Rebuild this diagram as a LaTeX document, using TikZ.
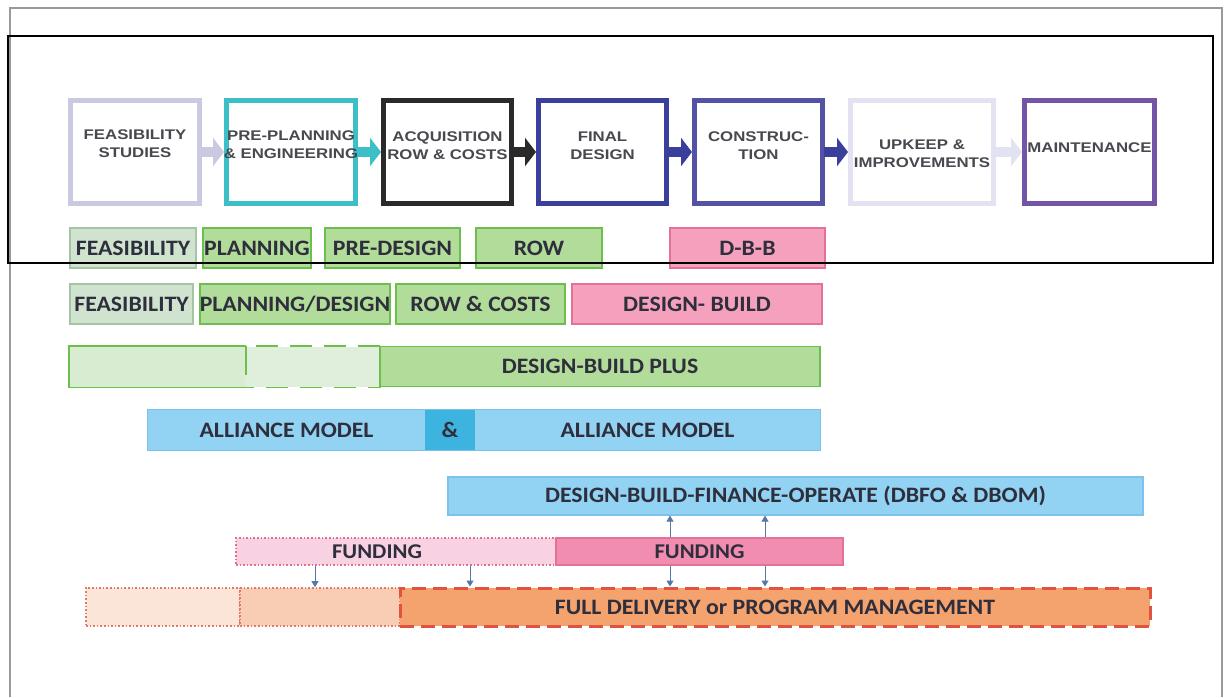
\documentclass[tikz,border=0pt]{standalone}
\usepackage{fontspec}
\usetikzlibrary{arrows.meta,calc}
\newfontfamily\topfont[FakeStretch=1.2]{Liberation Sans}
\newfontfamily\lowfont[FakeStretch=1.08]{Carlito}
\definecolor{txt}{HTML}{2E2E3C}
\definecolor{toptxt}{HTML}{48484F}
\definecolor{cFeas}{HTML}{C9C9E2}
\definecolor{cTeal}{HTML}{3CBFC6}
\definecolor{cBlack}{HTML}{2A2A2A}
\definecolor{cNavy}{HTML}{3B3F9C}
\definecolor{cBlue}{HTML}{5352A4}
\definecolor{cPale}{HTML}{E2E2F2}
\definecolor{cPurp}{HTML}{7454A6}
\definecolor{gFill}{HTML}{CFE3CF}
\definecolor{gDraw}{HTML}{A5C3A5}
\definecolor{grFill}{HTML}{B2DC9A}
\definecolor{grDraw}{HTML}{6CBF4C}
\definecolor{lgFill}{HTML}{D8ECD2}
\definecolor{mgFill}{HTML}{E0EFDC}
\definecolor{pkFill}{HTML}{F5A1BD}
\definecolor{pkDraw}{HTML}{E57296}
\definecolor{blFill}{HTML}{92D2F2}
\definecolor{blDraw}{HTML}{7DC2EA}
\definecolor{blDark}{HTML}{3DB3E0}
\definecolor{fpFill}{HTML}{F8D2E2}
\definecolor{fpDraw}{HTML}{E0708E}
\definecolor{fsFill}{HTML}{F08DB1}
\definecolor{o1Fill}{HTML}{FBE4D8}
\definecolor{o2Fill}{HTML}{F8CDB3}
\definecolor{o3Fill}{HTML}{F4A26E}
\definecolor{oDraw}{HTML}{E0543F}
\definecolor{conn}{HTML}{5677A6}
\tikzset{
  stagebox/.style={draw=#1, line width=5pt, minimum height=103pt, inner sep=0pt},
  stagetext/.style={font=\topfont\bfseries\fontsize{14}{18}\selectfont, text=toptxt, align=center, inner sep=0pt},
  flow/.style={draw=#1, line width=10pt, -{Triangle[width=28pt,length=11pt]}, shorten <=-1pt},
  bar/.style={minimum height=40pt, inner sep=0pt, line width=1.6pt, font=\lowfont\bfseries\fontsize{22}{24}\selectfont, text=txt},
  gbar/.style={bar, fill=gFill, draw=gDraw},
  grbar/.style={bar, fill=grFill, draw=grDraw},
  pkbar/.style={bar, fill=pkFill, draw=pkDraw},
  blbar/.style={bar, fill=blFill},
  link/.style={draw=conn, line width=1pt, -{Triangle[width=7pt,length=6pt]}},
}
\begin{document}
\begin{tikzpicture}[x=1pt,y=-1pt]
\useasboundingbox (0,0) rectangle (1231,697);
\fill[white] (0,0) rectangle (1231,697);
% outer gray frame
\draw[gray!80, line width=1.3pt] (10,697) -- (10,8) -- (1222,8) -- (1222,697);

% ---- stage boxes ----
\node[stagebox=cFeas, minimum width=129pt] (s1) at (135,152) {};
\node[stagebox=cTeal, minimum width=129pt] (s2) at (291,152) {};
\node[stagebox=cBlack, minimum width=128pt] (s3) at (447.5,152) {};
\node[stagebox=cNavy, minimum width=128pt] (s4) at (602.5,152) {};
\node[stagebox=cBlue, minimum width=128pt] (s5) at (758.5,152) {};
\node[stagebox=cPale, minimum width=143pt] (s6) at (922,152) {};
\node[stagebox=cPurp, minimum width=130pt] (s7) at (1089.5,152) {};
\node[stagetext] (t1) at (s1.center) [yshift=8pt] {FEASIBILITY\\STUDIES};
\node[stagetext] (t2) at (s2.center) [yshift=7pt] {PRE-PLANNING\\\&~ENGINEERING};
\node[stagetext] (t3) at (s3.center) [yshift=6.5pt] {ACQUISITION\\ROW \& COSTS};
\node[stagetext] (t4) at (s4.center) [yshift=6.5pt] {FINAL\\DESIGN};
\node[stagetext] (t5) at (s5.center) [yshift=6pt] {CONSTRUC-\\TION};
\node[stagetext] (t6) at (s6.center) [yshift=-1.5pt] {UPKEEP \&\\IMPROVEMENTS};
\node[stagetext] (t7) at (s7.center) [yshift=4pt] {MAINTENANCE};
\draw[flow=cFeas] (s1.east) -- (s2.west);
\draw[flow=cTeal] (s2.east) -- (s3.west);
\draw[flow=cBlack] (s3.east) -- (s4.west);
\draw[flow=cNavy] (s4.east) -- (s5.west);
\draw[flow=cNavy] (s5.east) -- (s6.west);
\draw[flow=cPale] (s6.east) -- (s7.west);

% ---- row 2 ----
\node[gbar, minimum width=126pt] (r2a) at (133,248) {FEASIBILITY};
\node[grbar, minimum width=108pt] (r2b) at (257,248) {PLANNING};
\node[grbar, minimum width=135pt] (r2c) at (392.5,248) {PRE-DESIGN};
\node[grbar, minimum width=126pt] (r2d) at (539,248) {ROW};
\node[pkbar, minimum width=155pt] (r2e) at (747.5,248) {D-B-B};

% ---- row 3 ----
\node[gbar, minimum width=123pt] (r3a) at (131.5,304) {FEASIBILITY};
\node[grbar, minimum width=188pt] (r3b) at (295,304) {PLANNING/DESIGN};
\node[grbar, minimum width=169pt] (r3c) at (480.5,304) {ROW \& COSTS};
\node[pkbar, minimum width=250pt] (r3d) at (697,304) {DESIGN- BUILD};

% ---- row 4: design-build plus ----
\node[bar, fill=lgFill, minimum width=175pt] (p1) at (157.5,366.5) {};
\node[bar, fill=mgFill, minimum width=135pt] (p2) at (312.5,366.5) {};
\node[bar, fill=grFill, draw=grDraw, minimum width=440pt] (p3) at (600,366.5) {DESIGN-BUILD PLUS};
\draw[grDraw, line width=1.6pt] (p1.north east) -- (p1.north west) -- (p1.south west) -- (p1.south east);
\draw[grDraw, line width=1.6pt] (p1.north east) -- ($(p1.south east)+(0,-12)$);
\draw[grDraw, line width=1.6pt, dash pattern=on 22pt off 12pt, dash phase=-12pt] (p2.north west) -- (p2.north east);
\draw[grDraw, line width=1.6pt, dash pattern=on 22pt off 12pt, dash phase=-22pt] (p2.south west) -- (p2.south east);

% ---- row 5: alliance ----
\node[blbar, minimum width=277pt] (a1) at (286.5,430) {ALLIANCE MODEL};
\node[bar, fill=blDark, minimum width=50pt] (amp) at (450,430) {\&};
\node[blbar, minimum width=345pt] (a2) at (647.5,430) {ALLIANCE MODEL};
\draw[blDraw, line width=1.2pt] (a1.north west) rectangle (a2.south east);

% ---- row 6: DBFO ----
\node[bar, fill=blFill, draw=blDraw, line width=1.2pt, minimum width=695pt, minimum height=38pt, font=\lowfont\bfseries\fontsize{22}{24}\selectfont] (dbfo) at (795.5,496) {DESIGN-BUILD-FINANCE-OPERATE (DBFO \& DBOM)};

% ---- row 8: full delivery ----
\node[bar, fill=o1Fill, draw=oDraw!80, dotted, line width=1.6pt, minimum width=154pt, minimum height=38pt] (fd1) at (163,607) {};
\node[bar, fill=o2Fill, draw=oDraw!80, dotted, line width=1.6pt, minimum width=160pt, minimum height=38pt] (fd2) at (320,607) {};
\node[bar, fill=o3Fill, draw=oDraw, dash pattern=on 14pt off 7pt, line width=3pt, minimum width=750pt, minimum height=38pt] (fd3) at (775,607) {FULL DELIVERY or PROGRAM MANAGEMENT};

% ---- row 7: funding ----
\node[bar, fill=fpFill, draw=fpDraw, dotted, line width=1.8pt, minimum width=320pt, minimum height=27pt, font=\lowfont\bfseries\fontsize{21}{22}\selectfont] (f1) at (396,551.5) {FUNDING\hspace*{38pt}};
\node[bar, fill=fsFill, draw=pkDraw, line width=1.4pt, minimum width=287pt, minimum height=27pt, font=\lowfont\bfseries\fontsize{21}{22}\selectfont] (f2) at (699.5,551.5) {FUNDING};

% ---- links ----
\coordinate (xa) at (315,0);
\coordinate (xb) at (470,0);
\coordinate (xc) at (670,0);
\coordinate (xd) at (765,0);
\draw[link] (f1.south -| xa) -- (fd2.north -| xa);
\draw[link] (f1.south -| xb) -- (fd3.north -| xb);
\draw[link] (f2.north -| xc) -- (dbfo.south -| xc);
\draw[link] (f2.north -| xd) -- (dbfo.south -| xd);
\draw[link] (f2.south -| xc) -- (fd3.north -| xc);
\draw[link] (f2.south -| xd) -- (fd3.north -| xd);

% black frame on top
\draw[black, line width=1.3pt] (8,36) rectangle (1213,263);
\end{tikzpicture}
\end{document}
